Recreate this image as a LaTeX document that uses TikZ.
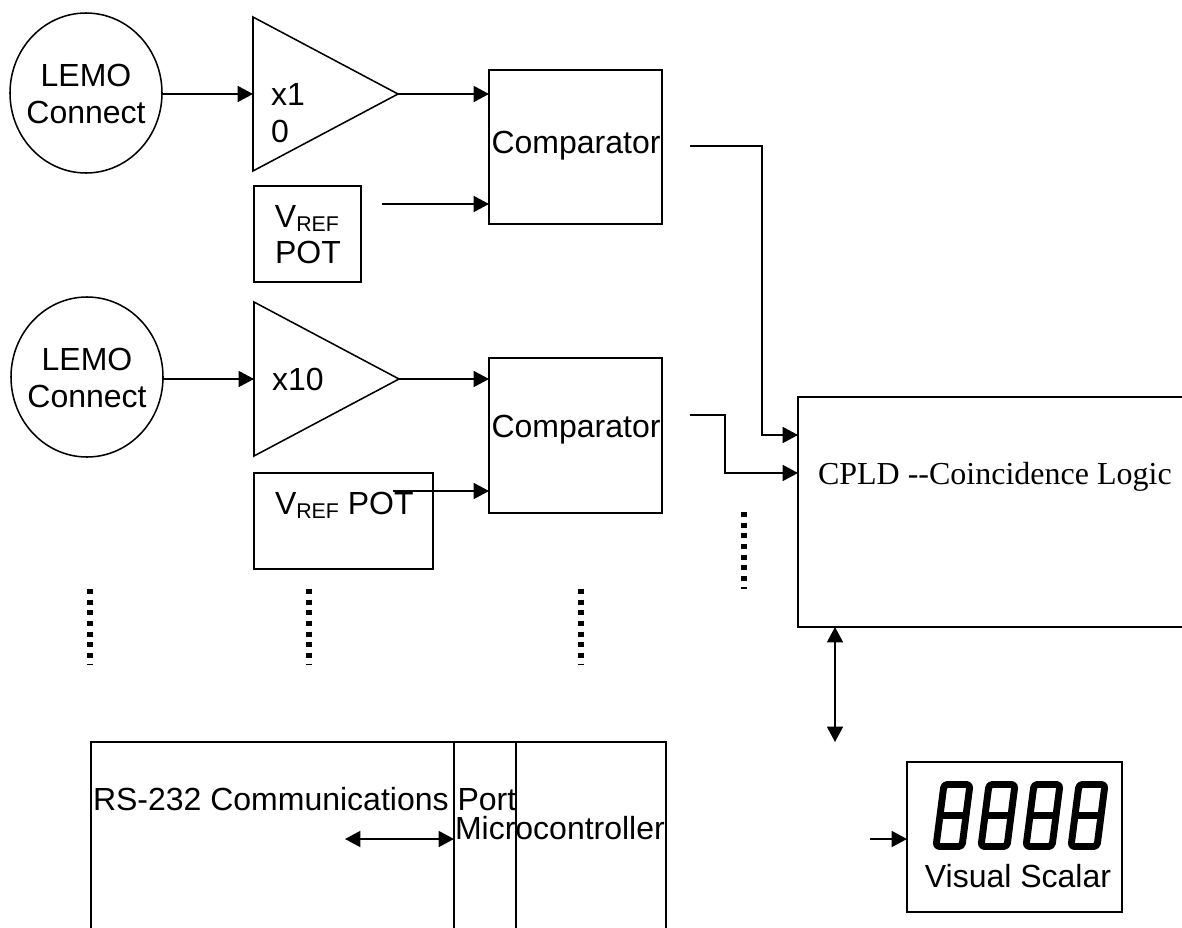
\documentclass[tikz,border=0pt]{standalone}
\usepackage{fontspec}
\setmainfont{Liberation Sans}
\newfontfamily\serifface{Liberation Serif}
\usetikzlibrary{arrows.meta,shapes.geometric}
\newcommand{\subtxt}[1]{\raisebox{-0.15em}{\fontsize{16pt}{16pt}\selectfont #1}}
\newcommand{\rbox}[5]{%
  \pgfmathsetmacro{\rbw}{(#4-#2)*0.75}\pgfmathsetmacro{\rbh}{(#5-#3)*0.75}%
  \node[blockbox,minimum width=\rbw pt,minimum height=\rbh pt] (#1) at ({(#2+#4)/2},{(#3+#5)/2}) {};}
\tikzset{
  x=0.75pt,y=-0.75pt,
  blockbox/.style={draw=black,line width=1.15pt,inner sep=0pt,outer sep=0pt,fill=none},
  portcircle/.style={draw=black,line width=1.15pt,shape=ellipse,inner sep=0pt,outer sep=0pt,minimum width=114pt,minimum height=120pt},
  amp/.style={draw=black,line width=1.15pt,line join=miter},
  lbl/.style={inner sep=0pt,outer sep=0pt,font=\fontsize{24pt}{27.6pt}\selectfont,align=center,text=black},
  seriflbl/.style={inner sep=0pt,outer sep=0pt,font=\serifface\fontsize{24pt}{27.6pt}\selectfont,text=black},
  wire/.style={draw=black,line width=1.15pt,-{Triangle[length=11.5pt,width=12pt]}},
  biwire/.style={draw=black,line width=1.15pt,{Triangle[length=11.5pt,width=12pt]}-{Triangle[length=11.5pt,width=12pt]}},
  dotcol/.style={draw=black,line width=4pt,dash pattern=on 3.8pt off 4.2pt},
  seg/.style={draw=black,line width=5.2pt,line join=round,rounded corners=2.5pt},
}
\begin{document}
\begin{tikzpicture}
\useasboundingbox (0,0) rectangle (1182,928);
\clip (0,0) rectangle (1182,928);
% input circles
\node[portcircle] (c1) at (86,93) {};
\node[portcircle] (c2) at (87,377) {};
\node[lbl] (c1t) at (86,94) {LEMO\\Connect};
\node[lbl] (c2t) at (87,378) {LEMO\\Connect};
% amplifiers
\coordinate (t1a) at (253,17); \coordinate (t1b) at (253,171); \coordinate (t1w) at (253,94); \coordinate (t1e) at (398,94);
\coordinate (t2a) at (254,302); \coordinate (t2b) at (254,456); \coordinate (t2w) at (254,379); \coordinate (t2e) at (399,379);
\draw[amp] (t1a) -- (t1e) -- (t1b) -- cycle;
\draw[amp] (t2a) -- (t2e) -- (t2b) -- cycle;
\node[lbl,anchor=base west] (t1x) at (271,105) {x1};
\node[lbl,anchor=base west] (t1y) at (271,142) {0};
\node[lbl,anchor=base west] (t2x) at (272,390) {x10};
% comparators
\rbox{cmp1}{489}{70}{662}{224}
\rbox{cmp2}{489}{358}{662}{513}
\node[lbl,anchor=base] (cmp1t) at (576,153) {Comparator};
\node[lbl,anchor=base] (cmp2t) at (576,437) {Comparator};
% reference pots
\rbox{v1}{254}{186}{361}{282}
\rbox{v2}{254}{473}{433}{569}
\node[lbl,anchor=base] (v1t) at (307,227) {V\subtxt{REF}};
\node[lbl,anchor=base] (v1u) at (308,263) {POT};
\node[lbl,anchor=base west] (v2t) at (275,514) {V\subtxt{REF} POT};
% CPLD
\rbox{cpld}{798}{397}{1200}{627}
\node[seriflbl,anchor=base west] (cpldt) at (818,484) {CPLD --Coincidence Logic};
% bottom blocks
\rbox{rs}{91}{742}{666}{960}
\rbox{port}{454}{742}{516}{960}
\node[lbl,anchor=base west] (rst) at (93,810) {RS-232 Communications Port};
\node[lbl,anchor=base west] (mct) at (455,839) {Microcontroller};
% scalar display
\rbox{vis}{907}{762}{1122}{912}
\node[lbl,anchor=base] (vist) at (1018,887) {Visual Scalar};
\foreach \dx in {936,981,1026,1071}{
  \draw[seg] (\dx,846.5) -- (\dx+26,846.5) -- (\dx+34,784.5) -- (\dx+8,784.5) -- cycle;
  \draw[line width=5.2pt,draw=black] (\dx+4,815.5) -- (\dx+30,815.5);
}
% free wire ends
\coordinate (o1) at (690,146); \coordinate (o2) at (690,415);
\coordinate (r1) at (382,204); \coordinate (r2) at (393,491);
\coordinate (bi1) at (835,627); \coordinate (bi2) at (835,742);
\coordinate (ci1) at (345,839); \coordinate (ci2) at (454,839);
\coordinate (vi) at (870,839);
% connectors
\draw[wire] (c1.east |- t1w) -- (t1w);
\draw[wire] (c2.east |- t2w) -- (t2w);
\draw[wire] (t1e) -- (cmp1.west |- t1e);
\draw[wire] (t2e) -- (cmp2.west |- t2e);
\draw[wire] (r1) -- (cmp1.west |- r1);
\draw[wire] (r2) -- (cmp2.west |- r2);
\draw[wire] (o1) -- (762,146) -- (762,435) -- (cpld.west |- 0,435);
\draw[wire] (o2) -- (725,415) -- (725,473) -- (cpld.west |- 0,473);
\draw[biwire] (bi1) -- (bi2);
\draw[biwire] (ci1) -- (ci2);
\draw[wire] (vi) -- (vis.west |- vi);
% ellipsis columns
\draw[dotcol] (90,589) -- (90,665);
\draw[dotcol] (309,589) -- (309,665);
\draw[dotcol] (581,589) -- (581,665);
\draw[dotcol] (744,512) -- (744,589);
\end{tikzpicture}
\end{document}
